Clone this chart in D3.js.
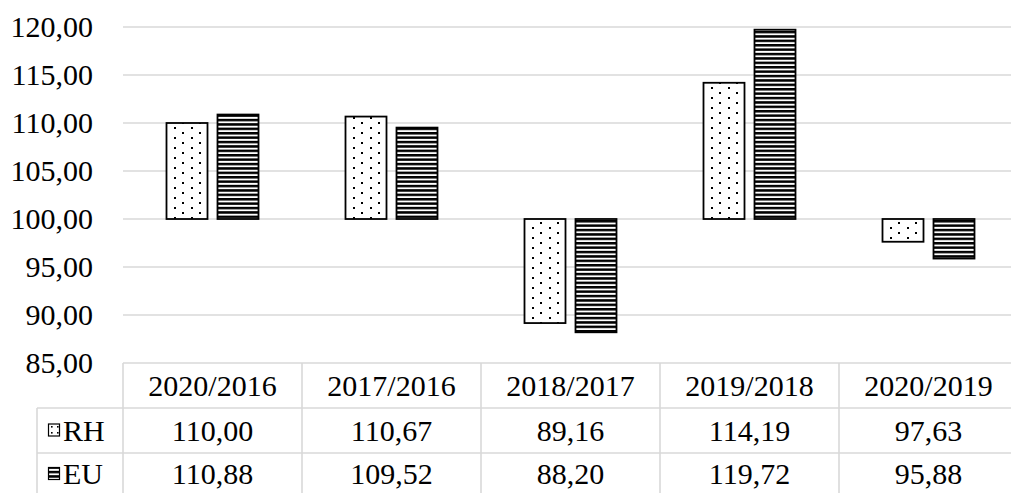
<!DOCTYPE html>
<html>
<head>
<meta charset="utf-8">
<script src="https://cdn.jsdelivr.net/npm/d3@7"></script>
<style>
  html, body { margin: 0; padding: 0; background: #fff; }
  svg { display: block; }
</style>
</head>
<body>
<svg id="chart" width="1011" height="493"></svg>
<script>
// Index values by period, two series
const categories = ["2020/2016", "2017/2016", "2018/2017", "2019/2018", "2020/2019"];
const seriesNames = ["RH", "EU"];
const rhValues = [110.00, 110.67, 89.16, 114.19, 97.63];
const euValues = [110.88, 109.52, 88.20, 119.72, 95.88];
const yTicks = [85, 90, 95, 100, 105, 110, 115, 120];
const baseValue = 100;

const seriesValues = { RH: rhValues, EU: euValues };

const W = 1011, H = 493;
const plotLeft = 123, plotRight = 1018;
const yTop = 27, yBottom = 363;
const headerBottom = 408, rhBottom = 453, tableBottom = 500;
const legendLeft = 37;
const fontSize = 30;
const fontFamily = '"Liberation Serif"';
const gridColor = "#d9d9d9";

const svg = d3.select("#chart");
const locale = d3.formatLocale({ decimal: ",", thousands: ".", grouping: [3], currency: ["", ""] });
const fmt = locale.format(".2f");

// Shared text styling
function label(sel) {
  return sel.style("font-family", fontFamily).attr("font-size", fontSize).attr("fill", "#000");
}

const x0 = d3.scaleBand().domain(categories).range([plotLeft, plotRight]).paddingInner(0).paddingOuter(0);
const x1 = d3.scaleBand().domain(seriesNames).range([0, x0.bandwidth()]).paddingInner(0.196).paddingOuter(0.853);
const y = d3.scaleLinear().domain([85, 120]).range([yBottom, yTop]);

// Fill patterns: staggered dots for RH, horizontal stripes for EU
const defs = svg.append("defs");
const dots = defs.append("pattern").attr("id", "pat-rh").attr("patternUnits", "userSpaceOnUse")
  .attr("width", 17).attr("height", 10).attr("x", 170).attr("y", 127);
dots.append("rect").attr("width", 17).attr("height", 10).attr("fill", "#fff");
dots.append("rect").attr("x", 0).attr("y", 0).attr("width", 2).attr("height", 2).attr("fill", "#000");
dots.append("rect").attr("x", 8).attr("y", 5).attr("width", 2).attr("height", 2).attr("fill", "#000");

const stripes = defs.append("pattern").attr("id", "pat-eu").attr("patternUnits", "userSpaceOnUse")
  .attr("width", 8).attr("height", 4.4).attr("x", 0).attr("y", 0);
stripes.append("rect").attr("width", 8).attr("height", 4.4).attr("fill", "#fff");
stripes.append("rect").attr("y", 0).attr("width", 8).attr("height", 2.5).attr("fill", "#000");

const keyDots = defs.append("pattern").attr("id", "key-rh").attr("patternUnits", "userSpaceOnUse")
  .attr("width", 6).attr("height", 6).attr("x", 51).attr("y", 426);
keyDots.append("rect").attr("width", 6).attr("height", 6).attr("fill", "#fff");
keyDots.append("rect").attr("width", 1.6).attr("height", 1.6).attr("fill", "#000");

const fills = { RH: "url(#pat-rh)", EU: "url(#pat-eu)" };
const keyFills = { RH: "url(#key-rh)", EU: "url(#pat-eu)" };

// Horizontal gridlines (the lowest one is the table top)
svg.append("g").selectAll("line").data(yTicks).join("line")
  .attr("x1", plotLeft).attr("x2", W)
  .attr("y1", d => y(d)).attr("y2", d => y(d))
  .attr("stroke", gridColor).attr("stroke-width", 1.6);

// Y tick labels
svg.append("g").selectAll("text").data(yTicks).join("text")
  .call(label)
  .attr("x", 93).attr("y", d => y(d) + 10)
  .attr("text-anchor", "end")
  .text(d => fmt(d));

// Bars grow from the base value
const groups = svg.append("g").selectAll("g").data(categories).join("g")
  .attr("transform", d => `translate(${x0(d)},0)`);
groups.selectAll("rect")
  .data((c, i) => seriesNames.map(s => ({ s, v: seriesValues[s][i] })))
  .join("rect")
  .attr("x", d => x1(d.s))
  .attr("width", x1.bandwidth())
  .attr("y", d => y(Math.max(d.v, baseValue)))
  .attr("height", d => Math.abs(y(d.v) - y(baseValue)))
  .attr("fill", d => fills[d.s])
  .attr("stroke", "#000").attr("stroke-width", 1.8);

// Data table below the plot
const table = svg.append("g");
const hLines = [
  { y: headerBottom, x1: legendLeft },
  { y: rhBottom, x1: legendLeft }
];
table.selectAll("line.h").data(hLines).join("line").attr("class", "h")
  .attr("x1", d => d.x1).attr("x2", W)
  .attr("y1", d => d.y).attr("y2", d => d.y)
  .attr("stroke", gridColor).attr("stroke-width", 1.6);

const colEdges = categories.map(c => x0(c)).concat([plotRight]);
table.selectAll("line.v").data(colEdges).join("line").attr("class", "v")
  .attr("x1", d => d).attr("x2", d => d)
  .attr("y1", yBottom).attr("y2", tableBottom)
  .attr("stroke", gridColor).attr("stroke-width", 1.6);
table.append("line")
  .attr("x1", legendLeft).attr("x2", legendLeft)
  .attr("y1", headerBottom).attr("y2", tableBottom)
  .attr("stroke", gridColor).attr("stroke-width", 1.6);

// Category headers
table.selectAll("text.cat").data(categories).join("text").attr("class", "cat")
  .call(label)
  .attr("x", d => x0(d) + x0.bandwidth() / 2)
  .attr("y", (yBottom + headerBottom) / 2 + 10)
  .attr("text-anchor", "middle")
  .text(d => d);

// Value rows with legend keys
const rowCenters = { RH: (headerBottom + rhBottom) / 2, EU: (rhBottom + 493) / 2 + 1 };
seriesNames.forEach(s => {
  const cy = rowCenters[s];
  table.append("rect")
    .attr("x", 48.5).attr("y", cy - 6.5).attr("width", 11).attr("height", 12)
    .attr("fill", keyFills[s]).attr("stroke", "#000").attr("stroke-width", 1.2);
  table.append("text")
    .call(label)
    .attr("x", 63).attr("y", cy + 10)
    .text(s);
  table.selectAll(null).data(seriesValues[s]).join("text")
    .call(label)
    .attr("x", (d, i) => x0(categories[i]) + x0.bandwidth() / 2)
    .attr("y", cy + 10)
    .attr("text-anchor", "middle")
    .text(d => fmt(d));
});
</script>
</body>
</html>
